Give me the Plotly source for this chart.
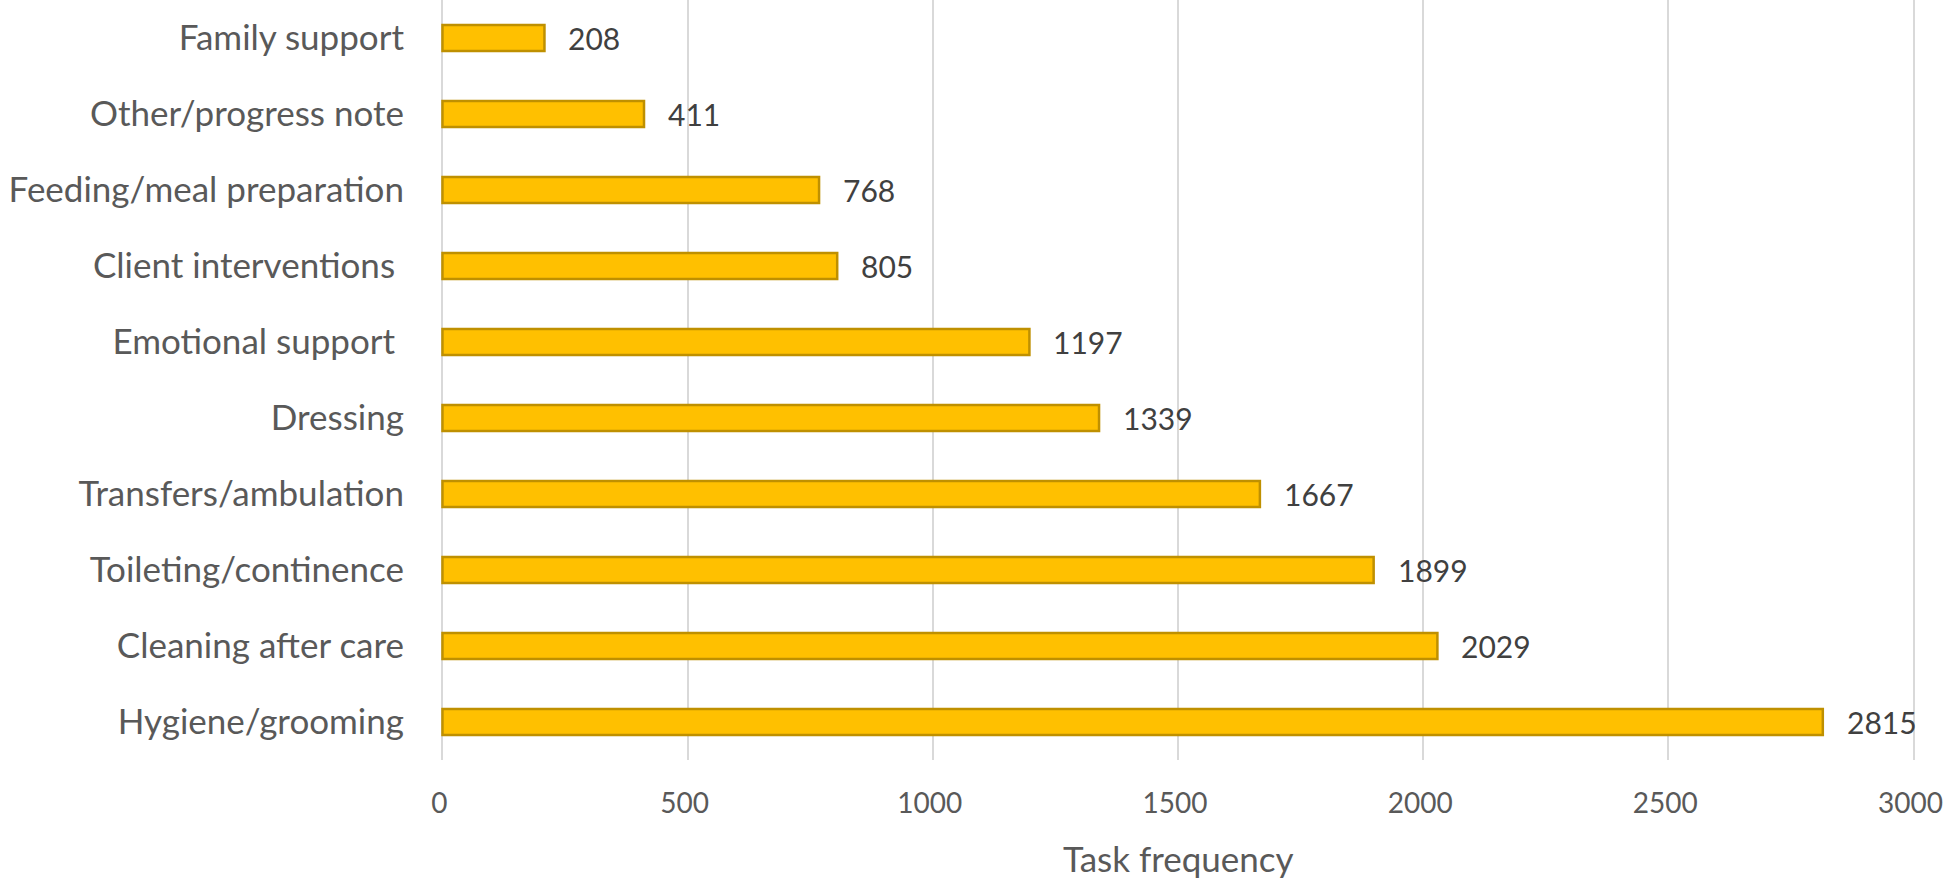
import plotly.graph_objects as go

# Task categories, top to bottom as in the chart
categories = [
    "Family support",
    "Other/progress note",
    "Feeding/meal preparation",
    "Client interventions\u00a0",
    "Emotional support\u00a0",
    "Dressing",
    "Transfers/ambulation",
    "Toileting/continence",
    "Cleaning after care",
    "Hygiene/grooming",
]
task_counts = [208, 411, 768, 805, 1197, 1339, 1667, 1899, 2029, 2815]
x_ticks = [0, 500, 1000, 1500, 2000, 2500, 3000]

FONT = "Lato, 'Open Sans', sans-serif"
GRID = "#D9D9D9"

fig = go.Figure()

fig.add_trace(go.Bar(
    x=task_counts, y=categories, orientation="h",
    width=0.34,
    marker=dict(color="#FFC000", line=dict(color="#BF9000", width=2.5)),
    hoverinfo="x+y",
))

# value labels just right of each bar
for cat, val in zip(categories, task_counts):
    fig.add_annotation(
        x=val, y=cat, text=str(val), showarrow=False,
        xanchor="left", yanchor="middle", xshift=22,
        font=dict(family=FONT, size=30, color="#404040"),
    )

# x axis title
fig.add_annotation(
    x=0.5, y=-0.129, xref="paper", yref="paper",
    text="Task frequency", showarrow=False,
    xanchor="center", yanchor="middle",
    font=dict(family=FONT, size=35, color="#595959"),
)

fig.update_layout(
    width=1946, height=880,
    plot_bgcolor="white", paper_bgcolor="white",
    margin=dict(l=441, r=31, t=0, b=120),
    showlegend=False,
    xaxis=dict(
        range=[-3, 3003], autorange=False,
        tickvals=x_ticks, ticktext=[str(t) for t in x_ticks],
        showgrid=True, gridcolor=GRID, gridwidth=2,
        zeroline=True, zerolinecolor=GRID, zerolinewidth=2,
        showline=False, ticks="",
        ticklabelstandoff=24, ticklabelshift=-3, ticklabeloverflow="allow",
        tickfont=dict(family=FONT, size=28, color="#595959"),
        automargin=False, fixedrange=True,
    ),
    yaxis=dict(
        autorange=False, range=[9.5, -0.5],
        showgrid=False, zeroline=False, showline=False, ticks="",
        ticklabelstandoff=36,
        tickfont=dict(family=FONT, size=35, color="#595959"),
        automargin=False, fixedrange=True,
    ),
)

# drop the default body margin so the figure fills the window exactly
fig.write_html(
    "out.html",
    config={"displayModeBar": False},
    post_script="document.body.style.margin='0';",
)
